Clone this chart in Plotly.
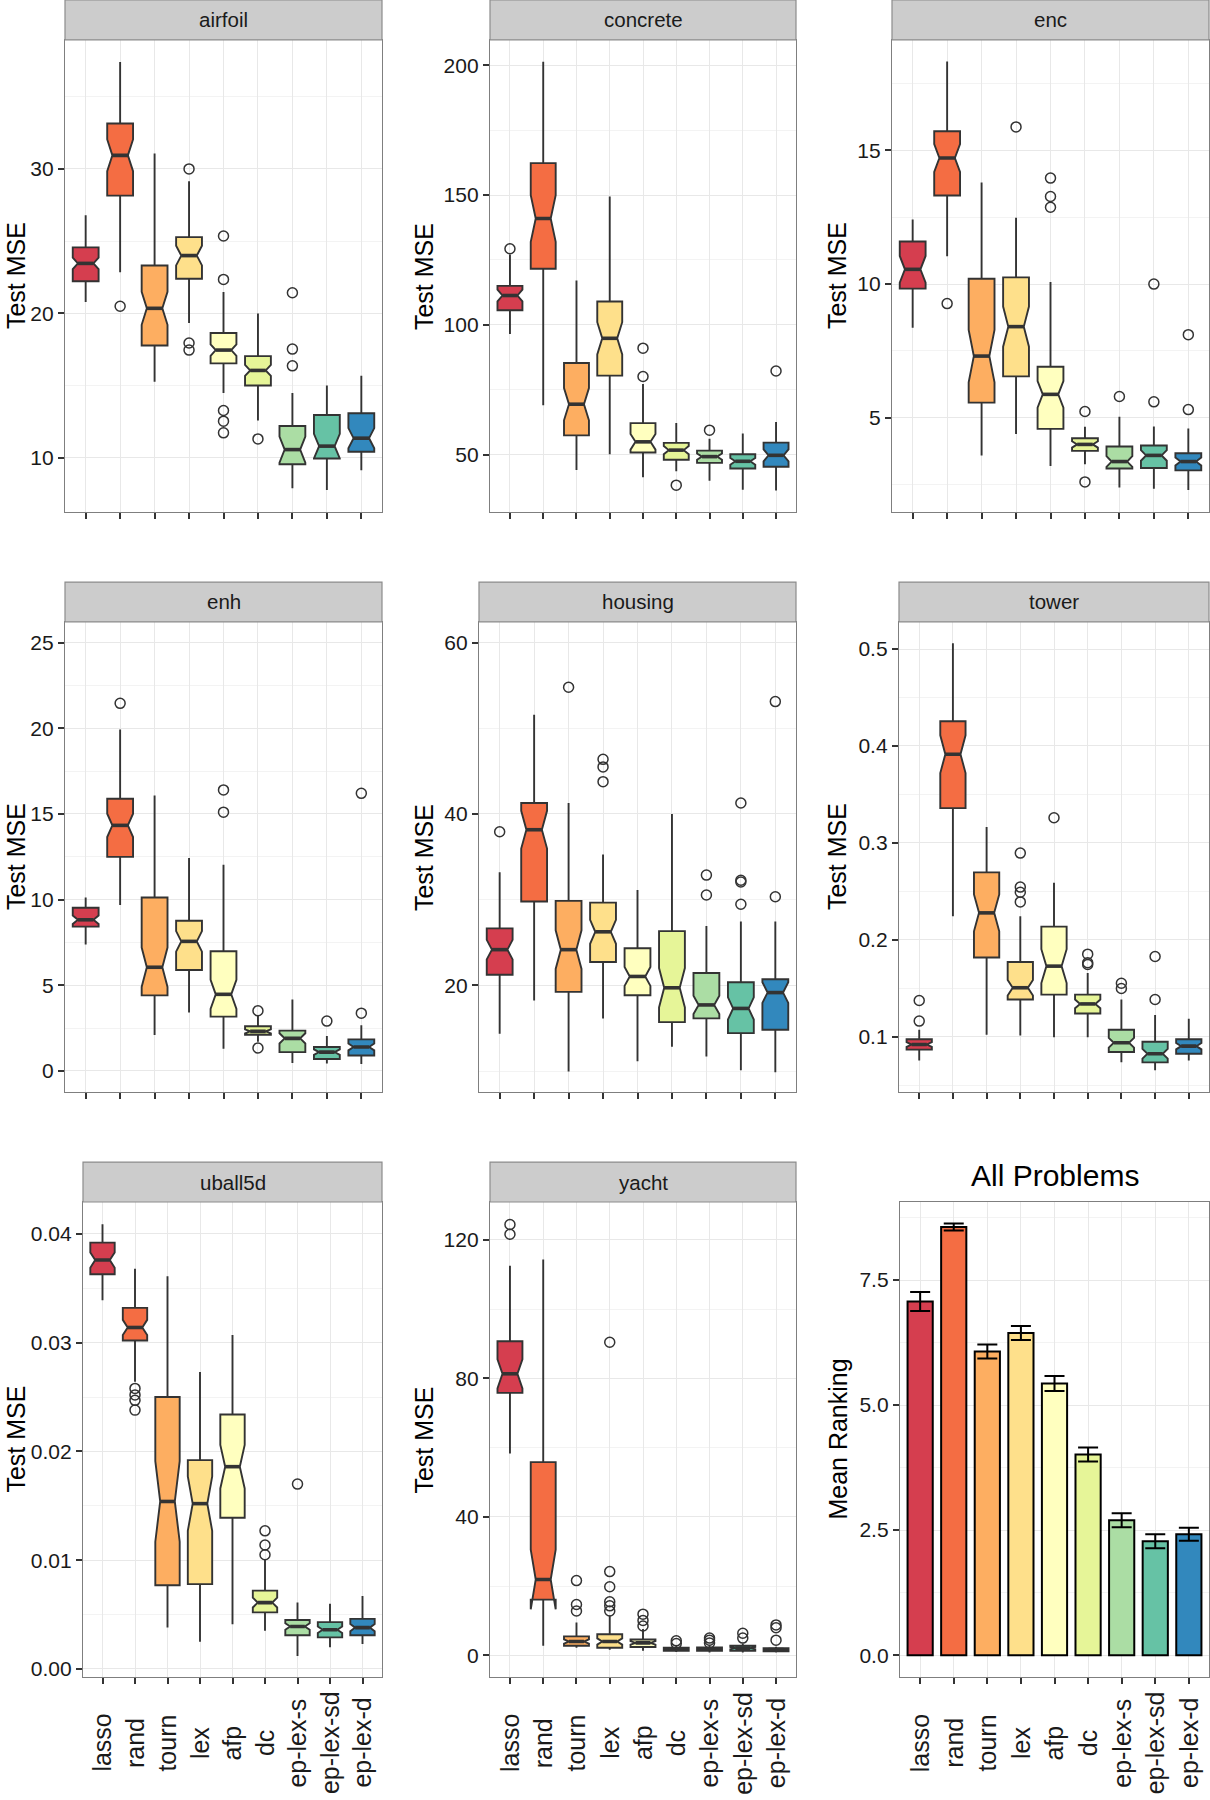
import plotly.graph_objects as go

# ---------------- data ----------------
methods = ['lasso', 'rand', 'tourn', 'lex', 'afp', 'dc', 'ep-lex-s', 'ep-lex-sd', 'ep-lex-d']
colors = ['#D53E4F', '#F46D43', '#FDAE61', '#FEE08B', '#FFFFBF', '#E6F598', '#ABDDA4', '#66C2A5', '#3288BD']

airfoil_lo = [20.79, 22.84, 15.26, 19.33, 14.49, 12.59, 7.90, 7.78, 9.14]
airfoil_q1 = [22.22, 28.15, 17.78, 22.40, 16.54, 15.01, 9.56, 9.95, 10.42]
airfoil_med = [23.46, 30.94, 20.35, 24.00, 17.46, 16.05, 10.57, 10.81, 11.36]
airfoil_q3 = [24.57, 33.14, 23.31, 25.28, 18.64, 17.04, 12.20, 12.96, 13.09]
airfoil_hi = [26.79, 37.41, 31.06, 29.14, 21.48, 20.00, 14.49, 15.01, 15.68]
airfoil_notch = [0.40, 1.10, 1.14, 0.68, 0.40, 0.38, 0.90, 0.85, 0.70]
airfoil_out = [[], [20.49], [], [30.0, 17.95, 17.46], [25.36, 22.35, 13.28, 12.54, 11.73],
               [11.31], [21.43, 17.53, 16.37], [], []]

concrete_lo = [96.5, 69.0, 44.0, 50.1, 41.2, 43.6, 39.9, 36.4, 36.1]
concrete_q1 = [105.6, 121.6, 57.4, 80.4, 50.8, 48.0, 46.8, 44.6, 45.3]
concrete_med = [111.3, 141.0, 69.4, 94.8, 54.9, 51.7, 49.2, 47.4, 49.7]
concrete_q3 = [115.0, 162.3, 85.3, 109.0, 62.1, 54.5, 51.5, 50.1, 54.6]
concrete_hi = [127.1, 201.4, 117.1, 149.5, 77.2, 62.2, 56.1, 58.1, 62.5]
concrete_notch = [2.3, 9.0, 6.2, 6.2, 3.0, 1.6, 1.2, 1.3, 2.3]
concrete_out = [[129.3], [], [], [], [91.0, 80.1], [38.2], [59.4], [], [82.2]]

enc_lo = [8.37, 11.04, 3.60, 4.40, 3.20, 3.27, 2.40, 2.35, 2.31]
enc_q1 = [9.83, 13.31, 5.57, 6.55, 4.59, 3.77, 3.11, 3.13, 3.04]
enc_med = [10.55, 14.71, 7.31, 8.41, 5.88, 4.01, 3.37, 3.60, 3.37]
enc_q3 = [11.59, 15.71, 10.20, 10.25, 6.91, 4.24, 3.93, 3.97, 3.68]
enc_hi = [12.41, 18.31, 13.79, 12.48, 10.08, 4.67, 5.04, 4.68, 4.60]
enc_notch = [0.50, 0.52, 0.98, 0.75, 0.50, 0.12, 0.20, 0.20, 0.15]
enc_out = [[], [9.27], [], [15.87], [13.96, 13.27, 12.87], [5.24, 2.61], [5.8], [10.0, 5.6], [8.11, 5.31]]

enh_lo = [7.38, 9.68, 2.10, 3.41, 1.30, 1.70, 0.46, 0.44, 0.40]
enh_q1 = [8.42, 12.49, 4.41, 5.89, 3.17, 2.11, 1.10, 0.70, 0.90]
enh_med = [8.82, 14.33, 6.05, 7.56, 4.47, 2.31, 1.90, 1.10, 1.40]
enh_q3 = [9.52, 15.88, 10.12, 8.76, 6.98, 2.61, 2.35, 1.40, 1.84]
enh_hi = [10.12, 19.93, 16.08, 12.43, 12.03, 3.21, 4.17, 2.04, 2.67]
enh_notch = [0.25, 0.68, 1.15, 0.60, 0.85, 0.12, 0.30, 0.16, 0.20]
enh_out = [[], [21.45], [], [], [16.4, 15.1], [3.51, 1.34], [], [2.91], [16.2, 3.37]]

housing_lo = [14.35, 18.24, 9.94, 16.15, 11.14, 12.83, 11.70, 10.10, 9.86]
housing_q1 = [21.24, 29.78, 19.24, 22.73, 18.84, 15.71, 16.15, 14.43, 14.83]
housing_med = [24.17, 38.16, 24.17, 26.25, 21.04, 19.72, 17.72, 17.31, 19.16]
housing_q3 = [26.65, 41.28, 29.86, 29.66, 24.33, 26.33, 21.44, 20.36, 20.72]
housing_hi = [33.19, 51.58, 41.28, 35.27, 31.14, 40.0, 26.93, 27.45, 27.45]
housing_notch = [1.14, 2.2, 2.25, 1.4, 1.1, 2.3, 1.07, 1.3, 1.2]
housing_out = [[37.92], [], [54.79], [46.37, 45.49, 43.77], [], [], [32.87, 30.54],
               [41.28, 32.26, 32.06, 29.46], [53.11, 30.34]]

tower_lo = [0.0752, 0.2241, 0.1018, 0.1011, 0.0993, 0.0993, 0.0734, 0.0652, 0.0752]
tower_q1 = [0.0865, 0.3358, 0.1816, 0.1383, 0.1433, 0.1238, 0.0840, 0.0734, 0.0823]
tower_med = [0.0918, 0.3915, 0.2277, 0.1504, 0.1727, 0.1337, 0.0936, 0.0823, 0.0901]
tower_q3 = [0.0972, 0.4255, 0.2695, 0.1770, 0.2135, 0.1433, 0.1071, 0.0947, 0.0972]
tower_hi = [0.1071, 0.5060, 0.3163, 0.2241, 0.2589, 0.1656, 0.1383, 0.1223, 0.1184]
tower_notch = [0.0024, 0.0195, 0.019, 0.008, 0.0175, 0.0045, 0.005, 0.005, 0.0033]
tower_out = [[0.1372, 0.116], [], [], [0.2894, 0.2543, 0.249, 0.239], [0.3259],
             [0.1851, 0.1762, 0.1745], [0.155, 0.1496], [0.1826, 0.1383], []]

uball5d_lo = [0.0339, 0.0264, 0.0038, 0.0025, 0.0041, 0.0035, 0.0012, 0.0020, 0.0023]
uball5d_q1 = [0.0363, 0.0302, 0.0077, 0.0078, 0.0139, 0.0052, 0.0031, 0.0029, 0.0031]
uball5d_med = [0.0376, 0.0314, 0.0154, 0.0152, 0.0186, 0.0061, 0.0039, 0.0036, 0.0038]
uball5d_q3 = [0.0392, 0.0332, 0.0250, 0.0192, 0.0234, 0.0072, 0.0045, 0.0043, 0.0046]
uball5d_hi = [0.0409, 0.0368, 0.0361, 0.0273, 0.0307, 0.0101, 0.0061, 0.0060, 0.0067]
uball5d_notch = [0.0007, 0.0007, 0.0037, 0.0025, 0.0020, 0.00045, 0.0003, 0.0003, 0.00033]
uball5d_out = [[], [0.0258, 0.0252, 0.0247, 0.0238], [], [], [], [0.0127, 0.0114, 0.0105],
               [0.0170], [], []]

yacht_lo = [58.3, 2.8, 2.2, 1.6, 1.3, 1.0, 0.8, 0.8, 0.8]
yacht_q1 = [75.8, 16.1, 2.8, 2.2, 2.4, 1.3, 1.3, 1.3, 1.2]
yacht_med = [81.3, 21.9, 4.0, 4.0, 3.6, 1.8, 1.8, 2.1, 1.7]
yacht_q3 = [90.7, 55.8, 5.5, 6.1, 4.6, 2.2, 2.3, 2.8, 2.1]
yacht_hi = [112.5, 114.3, 9.5, 11.5, 7.6, 2.8, 3.0, 3.4, 2.5]
yacht_notch = [4.2, 8.6, 0.6, 0.9, 0.5, 0.2, 0.22, 0.33, 0.2]
yacht_out = [[124.4, 121.6], [], [21.6, 14.7, 12.8], [90.4, 24.2, 19.8, 15.5, 14.3, 12.8],
             [11.9, 10.1, 8.5], [4.2, 3.4], [5.0, 4.4, 3.6], [6.4, 5.0], [8.8, 8.0, 4.4]]

rank_mean = [7.07, 8.56, 6.07, 6.44, 5.43, 4.01, 2.70, 2.28, 2.42]
rank_err = [0.19, 0.07, 0.14, 0.14, 0.15, 0.14, 0.14, 0.14, 0.13]

# ---------------- layout geometry (pixels) ----------------
W, H = 1210, 1800
FONT = 'Liberation Sans, Arial, Helvetica, sans-serif'
BOXW = 0.75
NOTCHW = 0.2
XLAB_Y = 1746          # centre of the rotated category labels (bottom row)

ROW1 = (0, 40, 513)      # strip top, panel top, panel bottom
ROW2 = (583, 623, 1094)
ROW3 = (1164, 1204, 1680)

panels = [
    # name, data, (left, right), row, yrange, dtick, minor, fmt, ytitle_left, bottom-row labels
    ('airfoil', (airfoil_lo, airfoil_q1, airfoil_med, airfoil_q3, airfoil_hi, airfoil_notch, airfoil_out),
     (65, 382), ROW1, [6.24, 38.93], 10, 5, '', 0, False),
    ('concrete', (concrete_lo, concrete_q1, concrete_med, concrete_q3, concrete_hi, concrete_notch, concrete_out),
     (490, 796), ROW1, [27.8, 209.8], 50, 25, '', 408, False),
    ('enc', (enc_lo, enc_q1, enc_med, enc_q3, enc_hi, enc_notch, enc_out),
     (892, 1209), ROW1, [1.48, 19.12], 5, 2.5, '', 821, False),
    ('enh', (enh_lo, enh_q1, enh_med, enh_q3, enh_hi, enh_notch, enh_out),
     (65, 382), ROW2, [-1.24, 26.2], 5, 2.5, '', 0, False),
    ('housing', (housing_lo, housing_q1, housing_med, housing_q3, housing_hi, housing_notch, housing_out),
     (479, 796), ROW2, [7.54, 62.4], 20, 10, '', 408, False),
    ('tower', (tower_lo, tower_q1, tower_med, tower_q3, tower_hi, tower_notch, tower_out),
     (899, 1209), ROW2, [0.0426, 0.528], 0.1, 0.05, '.1f', 821, False),
    ('uball5d', (uball5d_lo, uball5d_q1, uball5d_med, uball5d_q3, uball5d_hi, uball5d_notch, uball5d_out),
     (83, 382), ROW3, [-0.00076, 0.04294], 0.01, 0.005, '.2f', 0, True),
    ('yacht', (yacht_lo, yacht_q1, yacht_med, yacht_q3, yacht_hi, yacht_notch, yacht_out),
     (490, 796), ROW3, [-6.3, 130.9], 40, 20, '', 408, True),
]
rank_lr = (900, 1209)


def px_x(v):
    return v / W


def px_y(v):
    return 1 - v / H


fig = go.Figure()
shapes = []
annotations = []


def axis_common():
    return dict(
        showline=True, mirror=True, linecolor='#7f7f7f', linewidth=1.3,
        ticks='outside', ticklen=6, tickwidth=1.6, tickcolor='#333333',
        showgrid=True, gridcolor='#e8e8e8', gridwidth=1.2,
        zeroline=False, fixedrange=True,
        tickfont=dict(family=FONT, size=21, color='#1a1a1a'),
    )


def add_axes(k, lr, row, yrange, dtick, minor, fmt):
    l, r = lr
    _, t, b = row
    xname = 'xaxis' if k == 1 else f'xaxis{k}'
    yname = 'yaxis' if k == 1 else f'yaxis{k}'
    xa = axis_common()
    xa.update(domain=[px_x(l), px_x(r)], range=[-0.6, 8.6], anchor='y' if k == 1 else f'y{k}',
              tickmode='array', tickvals=list(range(len(methods))), ticktext=methods,
              showticklabels=False)
    ya = axis_common()
    ya.update(domain=[px_y(b), px_y(t)], range=yrange, anchor='x' if k == 1 else f'x{k}',
              tickmode='linear', tick0=0, dtick=dtick, tickformat=fmt,
              minor=dict(tickmode='linear', tick0=0, dtick=minor, showgrid=True,
                         gridcolor='#f3f3f3', gridwidth=1.0))
    fig.layout[xname] = xa
    fig.layout[yname] = ya


def add_category_labels(k):
    xref = 'x' if k == 1 else f'x{k}'
    for i, m in enumerate(methods):
        annotations.append(dict(text=m, xref=xref, yref='paper', x=i, y=px_y(XLAB_Y),
                                showarrow=False, textangle=-90, xanchor='center', yanchor='middle',
                                font=dict(family=FONT, size=25, color='#1a1a1a')))


for k, (name, data, lr, row, yrange, dtick, minor, fmt, tx, show_x) in enumerate(panels, start=1):
    lo, q1, med, q3, hi, notch, outs = data
    xref = 'x' if k == 1 else f'x{k}'
    yref = 'y' if k == 1 else f'y{k}'
    for i, m in enumerate(methods):
        fig.add_trace(go.Box(
            x=[i], q1=[q1[i]], median=[med[i]], q3=[q3[i]],
            lowerfence=[lo[i]], upperfence=[hi[i]], notchspan=[notch[i]],
            notched=True, notchwidth=NOTCHW, width=BOXW, whiskerwidth=0,
            boxpoints=False, fillcolor=colors[i],
            line=dict(color='#333333', width=1.9),
            xaxis=xref, yaxis=yref, hoverinfo='skip', name=m, showlegend=False))
    # thick median segments (span the notch waist)
    mx, my = [], []
    half = BOXW / 2 * (1 - 2 * NOTCHW)
    for i in range(len(methods)):
        mx += [i - half, i + half, None]
        my += [med[i], med[i], None]
    fig.add_trace(go.Scatter(x=mx, y=my, mode='lines', line=dict(color='#333333', width=3.6),
                             xaxis=xref, yaxis=yref, hoverinfo='skip', showlegend=False))
    # outliers
    ox, oy = [], []
    for i, vals in enumerate(outs):
        for v in vals:
            ox.append(i)
            oy.append(v)
    fig.add_trace(go.Scatter(x=ox, y=oy, mode='markers',
                             marker=dict(symbol='circle-open', size=10, color='#333333',
                                         line=dict(width=1.5, color='#333333')),
                             xaxis=xref, yaxis=yref, hoverinfo='skip', showlegend=False))
    add_axes(k, lr, row, yrange, dtick, minor, fmt)
    l, r = lr
    st, t, b = row
    shapes.append(dict(type='rect', xref='paper', yref='paper',
                       x0=px_x(l), x1=px_x(r), y0=px_y(t), y1=px_y(st),
                       fillcolor='#cccccc', line=dict(color='#8c8c8c', width=1.2)))
    annotations.append(dict(text=name, xref='paper', yref='paper', x=px_x((l + r) / 2),
                            y=px_y((t + st) / 2), showarrow=False, xanchor='center',
                            yanchor='middle', font=dict(family=FONT, size=20.5, color='#1a1a1a')))
    annotations.append(dict(text='Test MSE', xref='paper', yref='paper', x=px_x(tx),
                            y=px_y((t + b) / 2), showarrow=False, textangle=-90,
                            xanchor='left', yanchor='middle',
                            font=dict(family=FONT, size=25, color='#000000')))
    if show_x:
        add_category_labels(k)

# ---------------- All problems bar chart ----------------
fig.add_trace(go.Bar(
    x=list(range(len(methods))), y=rank_mean, width=BOXW,
    marker=dict(color=colors, line=dict(color='#000000', width=2)),
    error_y=dict(type='data', array=rank_err, visible=True, color='#000000', thickness=2, width=10),
    xaxis='x9', yaxis='y9', hoverinfo='skip', showlegend=False))
add_axes(9, rank_lr, ROW3, [-0.44, 9.06], 2.5, 1.25, '.1f')
add_category_labels(9)
l, r = rank_lr
_, t, b = ROW3
annotations.append(dict(text='All Problems', xref='paper', yref='paper', x=px_x((l + r) / 2),
                        y=px_y(1177), showarrow=False, xanchor='center', yanchor='middle',
                        font=dict(family=FONT, size=30, color='#000000')))
annotations.append(dict(text='Mean Ranking', xref='paper', yref='paper', x=px_x(822),
                        y=px_y((t + b) / 2), showarrow=False, textangle=-90,
                        xanchor='left', yanchor='middle',
                        font=dict(family=FONT, size=25, color='#000000')))

fig.update_layout(
    width=W, height=H, margin=dict(l=0, r=0, t=0, b=0),
    paper_bgcolor='white', plot_bgcolor='white',
    boxmode='overlay', barmode='overlay', showlegend=False,
    shapes=shapes, annotations=annotations,
    font=dict(family=FONT),
)

fig.write_html('out.html', config={'displayModeBar': False},
               post_script="document.body.style.margin='0px';document.body.style.overflow='hidden';")
